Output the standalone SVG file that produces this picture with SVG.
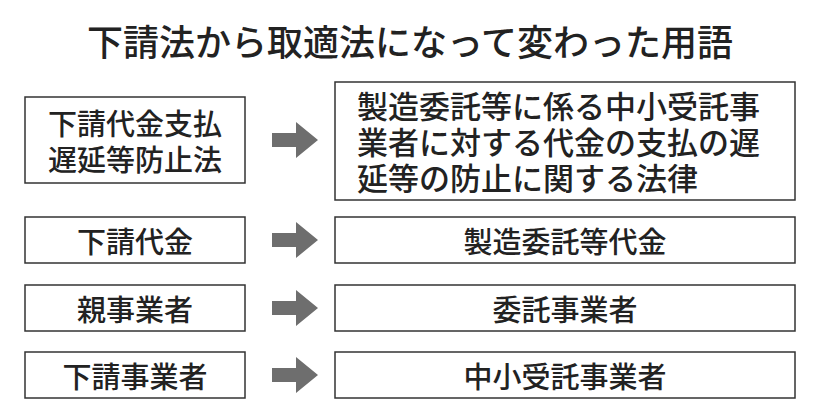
<svg xmlns="http://www.w3.org/2000/svg" width="820" height="420" viewBox="0 0 820 420">
<style>
.box{fill:#fff;stroke:#333;stroke-width:1.5}
.t{font-family:"Noto Sans CJK JP",sans-serif;font-size:29px;font-weight:500;fill:#222;text-anchor:middle;dominant-baseline:central}
.s{text-anchor:start;font-size:31px}
.arr{fill:#6e6e6e}
</style>
<defs><path id="a" d="M0,-7 H24 V-18 L46,0 L24,18 V7 H0 Z"/></defs>
<rect width="820" height="420" fill="#fff"/>
<text x="410" y="40" class="t" style="font-size:36px">下請法から取適法になって変わった用語</text>
<g id="l1"><rect class="box" x="25" y="97" width="220" height="86"/><text class="t" x="135" y="122">下請代金支払</text><text class="t" x="135" y="158">遅延等防止法</text></g>
<g id="r1"><rect class="box" x="335" y="82" width="460" height="118"/><text class="t s" x="357" y="104">製造委託等に係る中小受託事</text><text class="t s" x="357" y="140">業者に対する代金の支払の遅</text><text class="t s" x="357" y="176">延等の防止に関する法律</text></g>
<g id="l2"><rect class="box" x="25" y="217" width="220" height="46"/><text class="t" x="135" y="240">下請代金</text></g>
<g id="r2"><rect class="box" x="335" y="217" width="460" height="46"/><text class="t" x="565" y="240">製造委託等代金</text></g>
<g id="l3"><rect class="box" x="25" y="285" width="220" height="46"/><text class="t" x="135" y="308">親事業者</text></g>
<g id="r3"><rect class="box" x="335" y="285" width="460" height="46"/><text class="t" x="565" y="308">委託事業者</text></g>
<g id="l4"><rect class="box" x="25" y="352" width="220" height="46"/><text class="t" x="135" y="375">下請事業者</text></g>
<g id="r4"><rect class="box" x="335" y="352" width="460" height="46"/><text class="t" x="565" y="375">中小受託事業者</text></g>
<g id="connectors" class="arr">
<use href="#a" x="272" y="140"/><use href="#a" x="272" y="240"/><use href="#a" x="272" y="308"/><use href="#a" x="272" y="375"/>
</g>
</svg>
